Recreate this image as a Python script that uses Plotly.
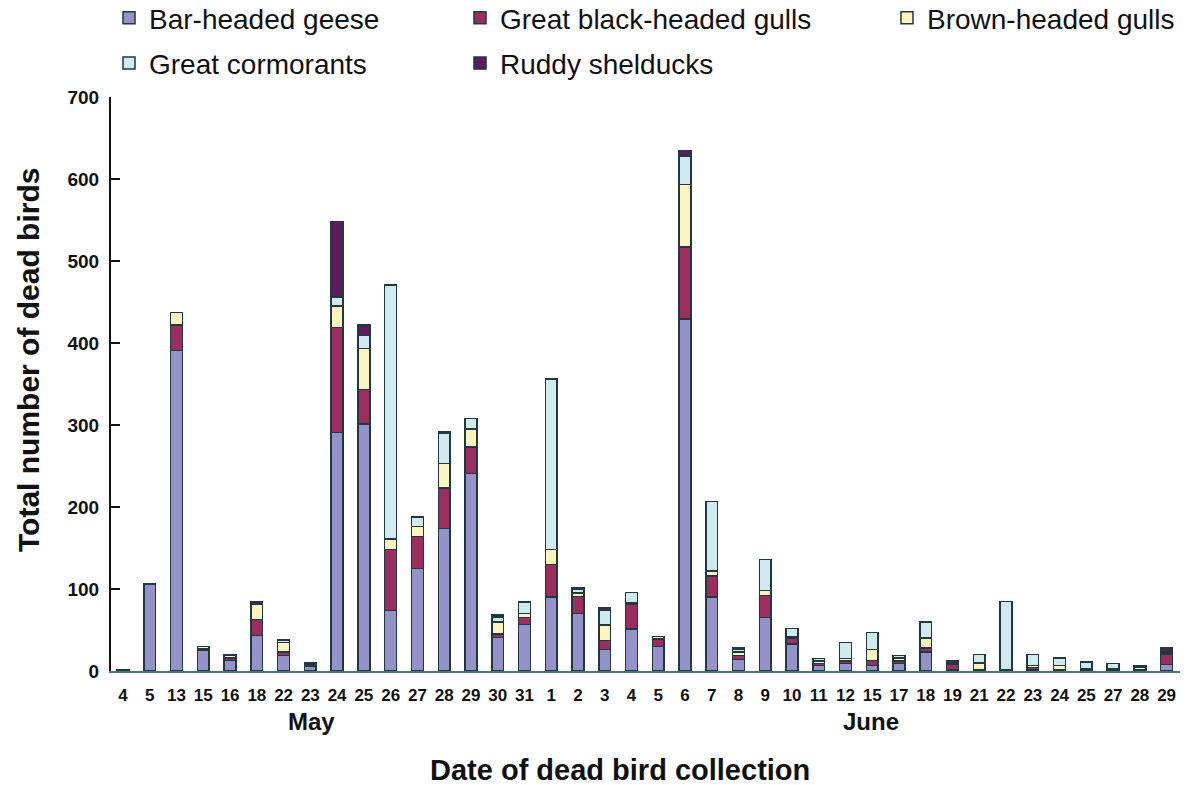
import plotly.graph_objects as go

may_days = ["4", "5", "13", "15", "16", "18", "22", "23", "24", "25", "26", "27", "28", "29", "30", "31"]
june_days = ["1", "2", "3", "4", "5", "6", "7", "8", "9", "10", "11", "12", "15", "17", "18", "19",
             "21", "22", "23", "24", "25", "27", "28", "29"]

bar_headed_geese = [2, 106, 391, 25, 13, 43, 19, 6, 291, 301, 74, 125, 174, 241, 41, 57,
                    90, 70, 26, 51, 30, 429, 90, 14, 65, 33, 7, 9, 7, 9, 23, 2, 1, 1, 2, 1, 1, 1, 1, 8]
great_black_headed_gulls = [0, 0, 31, 2, 3, 20, 4, 0, 128, 42, 74, 39, 49, 32, 4, 8,
                            40, 21, 11, 30, 9, 88, 26, 5, 27, 7, 2, 3, 6, 3, 5, 6, 1, 1, 2, 1, 2, 1, 1, 13]
brown_headed_gulls = [0, 0, 15, 3, 3, 18, 12, 2, 26, 50, 13, 12, 30, 22, 15, 5,
                      18, 4, 19, 2, 3, 76, 6, 4, 6, 2, 3, 3, 13, 4, 12, 1, 8, 0, 3, 5, 0, 1, 3, 1]
great_cormorants = [0, 0, 0, 0, 0, 1, 2, 2, 11, 16, 309, 12, 37, 13, 6, 14,
                    208, 5, 18, 13, 0, 35, 85, 4, 38, 10, 3, 20, 21, 3, 20, 1, 10, 83, 13, 9, 8, 6, 1, 1]
ruddy_shelducks = [0, 0, 0, 0, 1, 3, 1, 0, 92, 13, 1, 0, 2, 0, 2, 0,
                   0, 1, 3, 0, 0, 7, 0, 1, 0, 0, 0, 0, 0, 0, 0, 3, 0, 0, 0, 0, 0, 0, 0, 5]

categories = [f"May {d}" for d in may_days] + [f"June {d}" for d in june_days]
tick_text = may_days + june_days

series = [
    ("Bar-headed geese", bar_headed_geese, "#9492C9", "legend"),
    ("Great black-headed gulls", great_black_headed_gulls, "#9B2D5F", "legend2"),
    ("Brown-headed gulls", brown_headed_gulls, "#FCF3BF", "legend3"),
    ("Great cormorants", great_cormorants, "#D0EAF0", "legend"),
    ("Ruddy shelducks", ruddy_shelducks, "#5E1B5E", "legend2"),
]

W, H = 1190, 785
FONT = "Liberation Sans, Arial, sans-serif"
fig = go.Figure()
for name, vals, color, lg in series:
    fig.add_trace(go.Bar(
        x=categories, y=[v if v else None for v in vals], name=name,
        marker=dict(color=color, line=dict(color="#1E3A40", width=1.5)),
        legend=lg, legendgroup=name,
    ))

leg_common = dict(font=dict(family=FONT, size=28, color="#111"), bgcolor="rgba(0,0,0,0)",
                  orientation="v", xref="container", yref="paper",
                  yanchor="top", y=1 + 104 / 574, xanchor="left", tracegroupgap=6,
                  itemclick=False, itemdoubleclick=False)
fig.update_layout(
    barmode="stack", bargap=0.56,
    width=W, height=H,
    margin=dict(l=111, r=10, t=97, b=114, autoexpand=False),
    plot_bgcolor="white", paper_bgcolor="white",
    font=dict(family=FONT, color="#111"),
    legend=dict(x=109 / W, **leg_common),
    legend2=dict(x=460 / W, **leg_common),
    legend3=dict(x=887 / W, **leg_common),
    xaxis=dict(
        type="category", categoryorder="array", categoryarray=categories,
        tickvals=categories, ticktext=tick_text, range=[-0.45, 39.5],
        showline=True, linecolor="#4A767C", linewidth=1.5, ticks="",
        tickfont=dict(family=FONT, size=17, color="#111", weight="bold"),
        ticklabelstandoff=8, showgrid=False, automargin=False,
    ),
    yaxis=dict(
        range=[0, 700], dtick=100, showline=True, linecolor="#111", linewidth=2,
        ticks="inside", ticklen=9, tickwidth=2, tickcolor="#111",
        tickfont=dict(family=FONT, size=19, color="#111", weight="bold"),
        showgrid=False, zeroline=False, ticklabelstandoff=6, automargin=False,
    ),
    annotations=[
        dict(text="<b>May</b>", xref="paper", yref="paper", x=(311 - 111) / 1069, y=-(721 - 671) / 574,
             showarrow=False, font=dict(family=FONT, size=24, color="#111"), xanchor="center", yanchor="middle"),
        dict(text="<b>June</b>", xref="paper", yref="paper", x=(871 - 111) / 1069, y=-(721 - 671) / 574,
             showarrow=False, font=dict(family=FONT, size=24, color="#111"), xanchor="center", yanchor="middle"),
        dict(text="<b>Date of dead bird collection</b>", xref="paper", yref="paper",
             x=(620 - 111) / 1069, y=-(770 - 671) / 574, showarrow=False,
             font=dict(family=FONT, size=29, color="#111"), xanchor="center", yanchor="middle"),
        dict(text="<b>Total number of dead birds</b>", xref="paper", yref="paper", textangle=-90,
             x=-(111 - 28) / 1069, y=(671 - 360) / 574, showarrow=False,
             font=dict(family=FONT, size=30, color="#111"), xanchor="center", yanchor="middle"),
    ],
)
fig.write_html("out.html", config={"displayModeBar": False},
               post_script="document.body.style.margin='0';document.body.style.overflow='hidden';")
